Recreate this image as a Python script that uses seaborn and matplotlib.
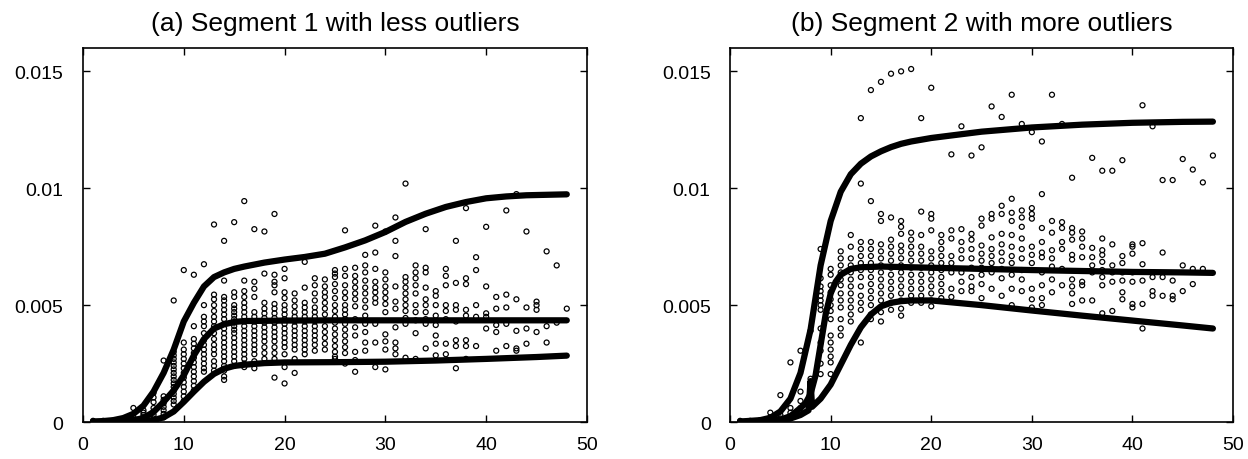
import pandas as pd
import seaborn as sns
import matplotlib.pyplot as plt

# y values are given in units of 1e-3

# Segment 1: scatter columns (x -> y values)
seg1_points = {
    1: [0.02, 0.05], 2: [0.02, 0.05], 3: [0.03, 0.06], 4: [0.05, 0.1],
    5: [0.1, 0.2, 0.6], 6: [0.1, 0.2, 0.3, 0.4, 0.5],
    7: [0.15, 0.3, 0.45, 0.6, 0.85, 1.05, 1.25],
    8: [2.63, 1.1, 0.95, 0.8, 0.65, 0.5, 0.35, 0.2],
    9: [5.2, 3.0, 2.85, 2.7, 2.55, 2.4, 2.25, 2.1, 1.95, 1.8, 1.65, 1.5, 1.35, 1.2, 1.05, 0.9, 0.75],
    10: [6.5, 3.4, 3.1, 2.9, 2.7, 2.5, 2.3, 2.1, 1.9, 1.7, 1.5, 1.3, 1.1, 0.9],
    11: [6.3, 4.1, 3.55, 3.35, 3.15, 2.95, 2.75, 2.55, 2.35, 2.15, 1.95, 1.75, 1.55, 1.35],
    12: [6.75, 5.0, 4.5, 4.3, 4.1, 3.8, 3.5, 3.3, 3.1, 2.9, 2.7, 2.5, 2.3, 2.15],
    13: [8.45, 5.45, 5.25, 5.0, 4.75, 4.5, 4.3, 4.1, 3.8, 3.55, 3.3, 3.1, 2.9, 2.6, 2.4, 2.2],
    14: [7.75, 6.05, 5.35, 5.2, 5.0, 4.8, 4.6, 4.4, 4.2, 4.0, 3.8, 3.6, 3.4, 3.2, 3.0, 2.8, 2.6, 2.4, 2.2, 1.95, 1.8],
    15: [8.55, 5.55, 5.35, 5.0, 4.85, 4.7, 4.55, 4.4, 4.25, 4.1, 3.95, 3.8, 3.6, 3.4, 3.2, 3.0, 2.8, 2.6, 2.4],
    16: [9.45, 6.05, 5.6, 5.35, 5.1, 4.9, 4.7, 4.5, 4.3, 4.1, 3.9, 3.7, 3.5, 3.3, 3.1, 2.9, 2.7, 2.5, 2.35],
    17: [8.25, 6.0, 5.7, 5.35, 4.7, 4.5, 4.3, 4.1, 3.9, 3.7, 3.5, 3.3, 3.1, 2.9, 2.6, 2.3],
    18: [8.15, 6.35, 5.1, 4.85, 4.65, 4.45, 4.25, 4.05, 3.85, 3.65, 3.45, 3.2, 2.95, 2.7],
    19: [8.9, 6.3, 6.0, 5.85, 5.55, 5.05, 4.85, 4.65, 4.45, 4.25, 4.05, 3.85, 3.65, 3.45, 3.2, 2.95, 2.7, 1.9],
    20: [6.55, 6.15, 5.55, 5.3, 5.0, 4.8, 4.6, 4.4, 4.2, 4.0, 3.8, 3.6, 3.4, 3.2, 2.9, 2.35, 1.65],
    21: [5.5, 5.2, 4.95, 4.7, 4.5, 4.3, 4.1, 3.9, 3.7, 3.5, 3.3, 3.1, 2.7, 2.1],
    22: [6.85, 5.75, 5.1, 4.9, 4.7, 4.5, 4.3, 4.1, 3.9, 3.7, 3.5, 3.3, 3.1, 2.9],
    23: [6.15, 5.85, 5.5, 5.2, 4.9, 4.7, 4.5, 4.3, 4.1, 3.9, 3.7, 3.5, 3.3, 3.05],
    24: [6.1, 5.8, 5.55, 5.35, 5.1, 4.85, 4.6, 4.35, 4.1, 3.85, 3.6, 3.35, 3.1],
    25: [6.5, 6.35, 6.2, 5.9, 5.6, 5.3, 5.0, 4.75, 4.5, 4.25, 4.0, 3.75, 3.5, 3.25, 3.0, 2.8, 2.7],
    26: [8.2, 6.55, 6.25, 5.85, 5.55, 5.3, 5.0, 4.8, 4.6, 4.4, 4.2, 3.95, 3.7, 3.45, 3.2, 2.95, 2.5],
    27: [6.6, 6.25, 6.0, 5.75, 5.5, 5.25, 4.95, 4.4, 4.05, 3.7, 3.0, 2.65, 2.15],
    28: [7.15, 6.7, 6.4, 6.05, 5.75, 5.5, 5.2, 4.9, 4.55, 4.2, 3.85, 3.4, 3.05],
    29: [8.4, 7.25, 6.55, 6.0, 5.75, 5.55, 5.3, 5.1, 4.2, 3.4, 2.35],
    30: [8.15, 6.4, 6.1, 5.8, 5.55, 5.3, 5.05, 4.7, 3.75, 3.45, 3.1, 2.25],
    31: [8.75, 7.75, 7.1, 5.8, 5.15, 4.85, 4.05, 3.4, 3.15, 2.9],
    32: [10.2, 6.2, 6.0, 5.75, 5.5, 5.25, 5.0, 4.75, 4.45, 4.2, 2.75],
    33: [6.7, 6.4, 6.15, 5.85, 5.5, 5.0, 4.7, 4.35, 3.8, 2.7],
    34: [8.25, 6.6, 6.4, 5.75, 5.25, 5.0, 4.7, 4.4, 4.2, 3.15],
    35: [5.6, 5.4, 5.0, 4.55, 4.15, 3.7, 3.35, 2.85],
    36: [6.55, 6.25, 5.85, 5.0, 4.75, 4.4, 3.35, 2.9],
    37: [7.75, 5.95, 5.0, 4.8, 4.3, 3.5, 3.25, 2.3],
    38: [9.15, 6.15, 5.9, 4.8, 4.55, 3.5, 3.25, 2.7],
    39: [7.05, 6.5, 5.0, 4.5, 3.25],
    40: [8.35, 5.8, 4.65, 4.5, 4.0],
    41: [5.35, 4.85, 4.15, 3.85, 3.05],
    42: [9.05, 5.45, 4.9, 4.2, 3.25],
    43: [9.75, 5.25, 3.9, 3.15, 3.05],
    44: [8.15, 4.9, 4.0, 3.35],
    45: [5.15, 5.0, 4.8, 3.85],
    46: [7.3, 4.1, 3.4],
    47: [6.7, 4.25],
    48: [4.85],
}

seg1_upper_x = [1, 2, 3, 4, 5, 6, 7, 8, 9, 10, 11, 12, 13, 14, 15, 16, 18, 20, 22, 24,
                26, 28, 30, 32, 34, 36, 38, 40, 42, 44, 46, 48]
seg1_upper_y = [0.02, 0.04, 0.08, 0.17, 0.35, 0.7, 1.3, 2.1, 3.1, 4.3, 5.1, 5.8, 6.2, 6.4,
                6.55, 6.65, 6.82, 6.95, 7.06, 7.2, 7.47, 7.77, 8.13, 8.56, 8.91, 9.2, 9.41,
                9.57, 9.65, 9.7, 9.72, 9.74]
seg1_mid_x = [1, 2, 3, 4, 5, 6, 7, 8, 9, 10, 11, 12, 13, 14, 15, 16, 20, 25, 30, 35, 40, 45, 48]
seg1_mid_y = [0.0, 0.01, 0.02, 0.04, 0.08, 0.17, 0.43, 0.86, 1.35, 2.0, 2.85, 3.55, 4.0,
              4.18, 4.28, 4.32, 4.34, 4.35, 4.35, 4.35, 4.35, 4.35, 4.35]
seg1_low_x = [1, 2, 3, 4, 5, 6, 7, 8, 9, 10, 11, 12, 13, 14, 15, 16, 18, 20, 25, 30, 35,
              40, 45, 48]
seg1_low_y = [0.0, 0.0, 0.01, 0.01, 0.02, 0.04, 0.08, 0.2, 0.45, 0.86, 1.3, 1.72, 2.06,
              2.28, 2.4, 2.45, 2.52, 2.55, 2.56, 2.58, 2.63, 2.7, 2.78, 2.84]

# Segment 2: scatter columns
seg2_points = {
    1: [0.02, 0.05], 2: [0.02, 0.05], 3: [0.05, 0.08], 4: [0.1, 0.2, 0.4],
    5: [0.15, 0.3, 1.15], 6: [0.2, 0.4, 0.6, 2.55],
    7: [0.4, 0.6, 0.9, 1.3, 3.05], 8: [0.7, 1.0, 1.3, 1.6, 1.85, 3.9],
    9: [7.4, 6.15, 5.8, 5.6, 5.4, 5.2, 5.0, 4.8, 4.0, 3.4, 3.05, 2.5, 2.05],
    10: [6.55, 6.3, 5.85, 5.55, 5.25, 5.0, 4.75, 4.4, 3.7, 3.4, 3.1, 2.8, 2.55, 2.05],
    11: [7.3, 7.0, 6.7, 6.4, 6.1, 5.85, 5.5, 5.2, 4.9, 4.4, 4.0, 3.7],
    12: [8.0, 7.5, 7.0, 6.7, 6.4, 6.1, 5.8, 5.5, 5.2, 4.9, 4.6, 4.3],
    13: [13.0, 10.2, 7.7, 7.4, 7.1, 6.8, 6.5, 6.2, 5.8, 5.4, 5.1, 4.8, 3.4],
    14: [14.2, 9.45, 7.7, 7.4, 7.1, 6.8, 6.5, 6.2, 5.9, 5.6, 5.3, 5.0, 4.6, 4.4],
    15: [14.55, 8.9, 8.6, 7.6, 7.3, 7.0, 6.7, 6.4, 6.1, 5.8, 5.5, 5.2, 4.7, 4.3],
    16: [14.9, 8.75, 7.8, 7.5, 7.2, 6.9, 6.6, 6.3, 6.0, 5.7, 5.4, 5.1, 4.8],
    17: [15.0, 8.6, 8.35, 8.05, 7.55, 7.3, 7.0, 6.7, 6.4, 6.1, 5.8, 5.5, 5.2, 4.85, 4.55],
    18: [15.1, 8.1, 7.8, 7.5, 7.2, 6.9, 6.6, 6.3, 6.0, 5.7, 5.4, 5.1],
    19: [13.0, 9.0, 8.0, 7.5, 7.2, 6.9, 6.6, 6.3, 6.0, 5.7, 5.4, 5.1],
    20: [14.3, 8.9, 8.7, 8.2, 7.3, 7.0, 6.7, 6.4, 6.1, 5.8, 5.5, 5.2, 4.95],
    21: [8.0, 7.7, 7.4, 7.1, 6.8, 6.5, 6.2, 5.9, 5.6, 5.3],
    22: [11.45, 8.2, 7.85, 7.1, 6.8, 6.4, 5.7, 5.35],
    23: [12.65, 8.25, 7.7, 7.35, 7.0, 6.4, 6.0, 5.6],
    24: [11.4, 8.05, 7.8, 7.4, 7.0, 6.6, 6.2, 5.8, 5.6],
    25: [11.75, 8.7, 8.4, 7.55, 7.2, 6.9, 6.6, 6.3, 5.9, 5.3],
    26: [13.5, 8.9, 8.7, 7.9, 7.4, 7.1, 6.8, 6.4, 5.7],
    27: [13.05, 9.25, 8.9, 8.05, 7.6, 7.25, 6.9, 6.55, 6.15, 5.4],
    28: [14.0, 9.55, 8.95, 8.6, 8.0, 7.5, 7.1, 6.8, 6.3, 5.7, 5.0],
    29: [12.75, 9.05, 8.75, 8.35, 7.85, 7.4, 7.0, 6.5, 6.1, 5.6],
    30: [12.4, 9.15, 8.9, 8.7, 7.5, 7.15, 6.8, 5.7, 5.25, 4.9],
    31: [12.0, 9.75, 8.3, 7.7, 7.25, 7.05, 6.4, 5.85, 5.3, 5.0],
    32: [14.0, 8.6, 8.1, 7.35, 7.0, 6.65, 6.1, 5.55],
    33: [12.75, 8.55, 8.3, 7.7, 7.4, 6.55, 5.85],
    34: [10.45, 8.3, 8.1, 7.8, 7.15, 6.95, 6.1, 5.8, 5.5, 5.05],
    35: [8.15, 7.85, 7.5, 7.05, 6.0, 5.85, 5.2],
    36: [11.3, 7.45, 7.05, 6.7, 6.4, 5.2],
    37: [10.75, 7.85, 7.35, 7.15, 6.85, 6.5, 6.2, 5.85, 4.65],
    38: [10.75, 7.6, 6.7, 6.4, 6.0, 4.75],
    39: [11.2, 7.1, 6.8, 6.4, 6.05, 5.55, 5.25],
    40: [7.6, 7.5, 7.2, 6.4, 6.0, 5.05, 4.9],
    41: [13.55, 7.65, 6.75, 6.05, 5.05, 4.0],
    42: [12.65, 6.2, 5.6, 5.4],
    43: [10.35, 7.25, 6.2, 5.4],
    44: [10.35, 6.05, 5.4, 5.25],
    45: [11.25, 6.7, 5.6],
    46: [10.8, 6.55, 5.9],
    47: [10.25, 6.55],
    48: [11.4],
}

seg2_upper_x = [1, 2, 3, 4, 5, 6, 7, 8, 9, 10, 11, 12, 13, 14, 15, 16, 17, 18, 20, 25,
                30, 35, 40, 45, 48]
seg2_upper_y = [0.02, 0.05, 0.08, 0.18, 0.45, 1.0, 2.1, 3.95, 6.7, 8.6, 9.85, 10.6, 11.05,
                11.36, 11.58, 11.76, 11.9, 12.0, 12.15, 12.42, 12.6, 12.72, 12.8, 12.84, 12.85]
seg2_mid_x = [1, 2, 3, 4, 5, 6, 7, 7.5, 8, 8.5, 9, 9.5, 10, 10.5, 11, 12, 13, 15, 20, 25,
              30, 35, 40, 45, 48]
seg2_mid_y = [0.0, 0.01, 0.02, 0.05, 0.1, 0.25, 0.6, 0.8, 1.2, 2.0, 3.3, 4.6, 5.5, 6.0,
              6.3, 6.55, 6.62, 6.65, 6.6, 6.55, 6.5, 6.46, 6.42, 6.4, 6.38]
seg2_low_x = [1, 2, 3, 4, 5, 6, 7, 7.8, 8.0, 8.15, 9, 10, 11, 12, 13, 14, 15, 16, 17, 18,
              20, 25, 30, 35, 40, 45, 48]
seg2_low_y = [0.0, 0.0, 0.01, 0.02, 0.05, 0.15, 0.3, 0.5, 1.75, 0.65, 1.0, 1.6, 2.45, 3.3,
              4.05, 4.6, 4.95, 5.1, 5.17, 5.2, 5.2, 5.0, 4.77, 4.55, 4.34, 4.13, 4.0]

titles = ["(a) Segment 1 with less outliers", "(b) Segment 2 with more outliers"]
x_ticks = [0, 10, 20, 30, 40, 50]
y_ticks = [0, 0.005, 0.01, 0.015]
y_tick_labels = ["0", "0.005", "0.01", "0.015"]


def points_frame(cols):
    rows = [(x, v * 1e-3) for x, vals in cols.items() for v in vals]
    return pd.DataFrame(rows, columns=["x", "y"])


sns.set_style("ticks")
plt.rcParams["font.family"] = ["Liberation Sans", "DejaVu Sans"]

fig = plt.figure(figsize=(12.48, 4.6), dpi=100)
ax1 = fig.add_axes([0.0665, 0.0804, 0.4038, 0.8131])
ax2 = fig.add_axes([0.585, 0.0804, 0.403, 0.8131])

panels = [
    (ax1, seg1_points, [(seg1_upper_x, seg1_upper_y), (seg1_mid_x, seg1_mid_y), (seg1_low_x, seg1_low_y)]),
    (ax2, seg2_points, [(seg2_upper_x, seg2_upper_y), (seg2_mid_x, seg2_mid_y), (seg2_low_x, seg2_low_y)]),
]

for i, (ax, pts, curves) in enumerate(panels):
    df = points_frame(pts)
    sns.scatterplot(data=df, x="x", y="y", ax=ax, marker="o", s=13,
                    facecolor="none", edgecolor="black", linewidth=0.9, zorder=2)
    for cx, cy in curves:
        sns.lineplot(x=cx, y=[v * 1e-3 for v in cy], ax=ax, color="black",
                     linewidth=4.5, estimator=None, sort=False, zorder=3)
    ax.set_xlim(0, 50)
    ax.set_ylim(0, 0.016)
    ax.set_xticks(x_ticks)
    ax.set_yticks(y_ticks)
    ax.set_yticklabels(y_tick_labels)
    ax.set_xlabel("")
    ax.set_ylabel("")
    ax.tick_params(direction="in", length=5, width=1, top=True, right=True,
                   labelsize=14, colors="black")
    ax.tick_params(axis="x", pad=10)
    ax.tick_params(axis="y", pad=14)
    for sp in ax.spines.values():
        sp.set_linewidth(1.2)
        sp.set_color("black")
    ax.set_title(titles[i], fontsize=19, pad=13, color="black")

fig.savefig("out.png", dpi=100)
plt.close()
